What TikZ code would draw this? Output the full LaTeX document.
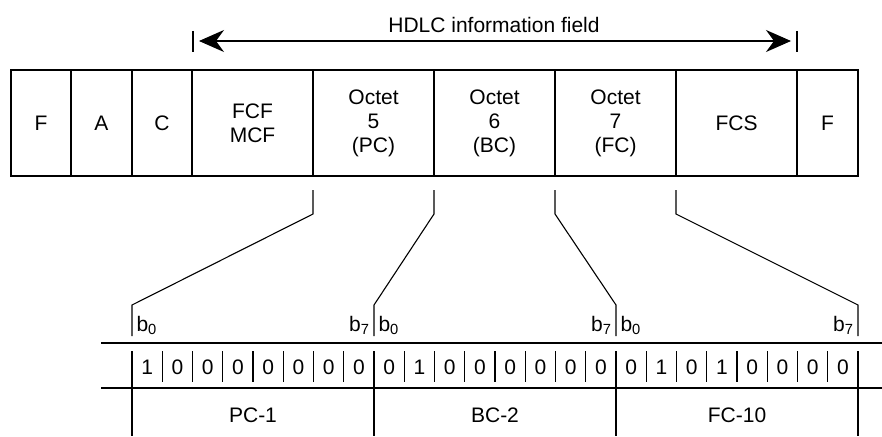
\documentclass[tikz,border=0pt]{standalone}
\usepackage{fontspec}
\setmainfont{Liberation Sans}
\usetikzlibrary{positioning,arrows.meta}

\begin{document}
\begin{tikzpicture}[x=1pt,y=-1pt,line width=1.1pt,>={Stealth[length=25pt,width=22pt,inset=8pt]},
  field/.style={draw,outer sep=0pt,inner sep=0pt,minimum height=106pt,align=center,font=\fontsize{21}{24}\selectfont},
  txt/.style={inner sep=2pt,font=\fontsize{21}{24}\selectfont}]
  \useasboundingbox (0,0) rectangle (882,436);
  % HDLC frame
  \node[field,minimum width=60pt,anchor=north west] (f1) at (11,70) {F};
  \node[field,minimum width=61pt,right=0pt of f1] (a) {A};
  \node[field,minimum width=60pt,right=0pt of a] (c) {C};
  \node[field,minimum width=121pt,right=0pt of c] (fcf) {FCF\\MCF};
  \node[field,minimum width=121pt,right=0pt of fcf] (oct5) {Octet\\5\\(PC)};
  \node[field,minimum width=121pt,right=0pt of oct5] (oct6) {Octet\\6\\(BC)};
  \node[field,minimum width=121pt,right=0pt of oct6] (oct7) {Octet\\7\\(FC)};
  \node[field,minimum width=121pt,right=0pt of oct7] (fcs) {FCS};
  \node[field,minimum width=61pt,right=0pt of fcs] (f2) {F};
  % information field span
  \coordinate (hl) at (193,41);
  \coordinate (hr) at (797,41);
  \node[txt] (title) at (494,25) {HDLC information field};
  \draw[<->,shorten <=6pt,shorten >=6pt] (hl) -- (hr);
  \draw ([yshift=10pt]hl) -- ([yshift=-11pt]hl);
  \draw ([yshift=10pt]hr) -- ([yshift=-11pt]hr);
  % expansion of octets 5..7 into bits
  \coordinate (s0) at (132,305);
  \coordinate (s1) at (374,305);
  \coordinate (s2) at (616,305);
  \coordinate (s3) at (858,305);
  \draw ([yshift=-14pt]oct5.south west) -- ++(0,24) -- (s0) -- ++(0,31);
  \draw ([yshift=-14pt]oct6.south west) -- ++(0,24) -- (s1) -- ++(0,31);
  \draw ([yshift=-14pt]oct7.south west) -- ++(0,24) -- (s2) -- ++(0,31);
  \draw ([yshift=-14pt]fcs.south west) -- ++(0,24) -- (s3) -- ++(0,31);
  \node[txt,anchor=base west] (pb0) at (134,331) {b\textsubscript{0}};
  \node[txt,anchor=base east] (pb7) at (372,331) {b\textsubscript{7}};
  \node[txt,anchor=base west] (bb0) at (376,331) {b\textsubscript{0}};
  \node[txt,anchor=base east] (bb7) at (614,331) {b\textsubscript{7}};
  \node[txt,anchor=base west] (fb0) at (618,331) {b\textsubscript{0}};
  \node[txt,anchor=base east] (fb7) at (856,331) {b\textsubscript{7}};
  % bit table
  \draw (101,343) -- (882,343);
  \draw (101,388) -- (882,388);
  \foreach \v [count=\i] in {1,0,0,0,0,0,0,0, 0,1,0,0,0,0,0,0, 0,1,0,1,0,0,0,0}
    \node[txt,anchor=base] (bit\i) at ({132+30.25*(\i-0.5)},374) {\v};
  \foreach \i in {1,...,23}
    \draw ({132+30.25*\i},351) -- ++(0,31);
  \foreach \i in {0,...,3}
    \draw ({132+242*\i},351) -- (132+242*\i,436);
  \node[txt] (pc) at (253,415) {PC-1};
  \node[txt] (bc) at (495,415) {BC-2};
  \node[txt] (fc) at (737,415) {FC-10};
\end{tikzpicture}
\end{document}
